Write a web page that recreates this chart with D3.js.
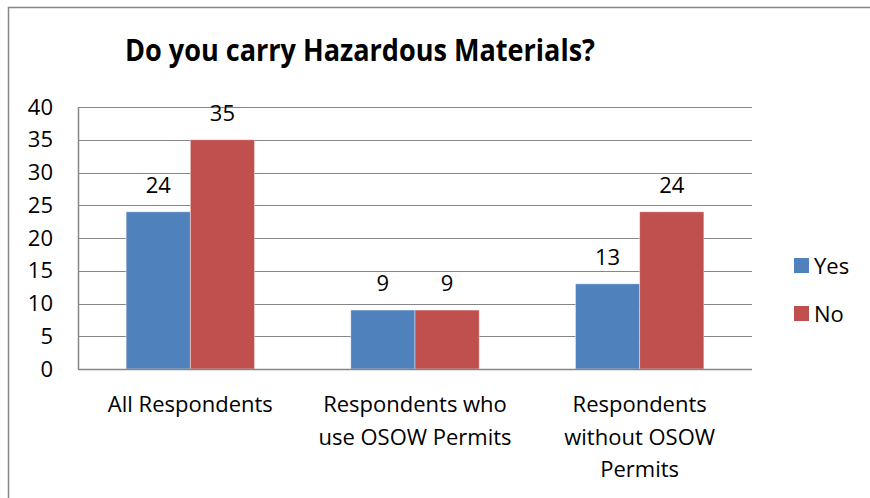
<!DOCTYPE html>
<html>
<head>
<meta charset="utf-8">
<title>Do you carry Hazardous Materials?</title>
<script src="https://d3js.org/d3.v7.min.js"></script>
<style>
  body { margin: 0; background: white; }
  text { font-family: "Open Sans", "Noto Sans", sans-serif; fill: #000; }
</style>
</head>
<body>
<svg id="chart"></svg>
<script>
// chart data
var categories = [
  ["All Respondents"],
  ["Respondents who", "use OSOW Permits"],
  ["Respondents", "without OSOW", "Permits"]
]
var seriesNames = ["Yes", "No"]
var yesValues = [24, 9, 13]
var noValues = [35, 9, 24]
var yTicks = [0, 5, 10, 15, 20, 25, 30, 35, 40]
var seriesColors = ["#4f81bd", "#c0504d"]

var width = 870
var height = 498

var plot = { left: 78, right: 752, top: 107, bottom: 369 }

var svg = d3.select("#chart")
  .attr("width", width)
  .attr("height", height)

// outer chart border (right/bottom edges fall outside the picture)
svg.append("rect")
  .attr("x", 8.5)
  .attr("y", 7.5)
  .attr("width", width)
  .attr("height", height)
  .attr("fill", "white")
  .attr("stroke", "#868686")
  .attr("stroke-width", 1.5)

// title
svg.append("text")
  .attr("x", 360)
  .attr("y", 61)
  .attr("text-anchor", "middle")
  .attr("font-size", 31)
  .attr("font-weight", 700)
  .attr("textLength", 470)
  .attr("lengthAdjust", "spacingAndGlyphs")
  .text("Do you carry Hazardous Materials?")

// scales
var idx = categories.map(function (d, i) { return i })
var x0 = d3.scaleBand()
  .domain(idx)
  .range([plot.left, plot.right])
  .paddingInner(1.5 / 3.5)
  .paddingOuter(0.75 / 3.5)

var x1 = d3.scaleBand()
  .domain(seriesNames)
  .range([0, x0.bandwidth()])

var y = d3.scaleLinear()
  .domain([0, 40])
  .range([plot.bottom, plot.top])

// gridlines
svg.append("g")
  .selectAll("line")
  .data(yTicks)
  .enter().append("line")
  .attr("x1", plot.left)
  .attr("x2", plot.right)
  .attr("y1", function (d) { return Math.round(y(d)) + 0.5 })
  .attr("y2", function (d) { return Math.round(y(d)) + 0.5 })
  .attr("stroke", "#868686")
  .attr("stroke-width", 1.2)

// y axis labels
var yAxis = d3.axisLeft(y).tickValues(yTicks).tickSize(0).tickPadding(25)
var yg = svg.append("g")
  .attr("transform", "translate(" + plot.left + ",0)")
  .call(yAxis)
yg.select(".domain").attr("stroke", "#868686").attr("stroke-width", 1.5)
yg.selectAll("text")
  .attr("font-size", 22)
  .attr("font-family", "Open Sans")
  .attr("fill", "#000")

// bars
var rows = idx.map(function (i) {
  return [
    { key: "Yes", value: yesValues[i] },
    { key: "No", value: noValues[i] }
  ]
})

var groups = svg.append("g")
  .selectAll("g")
  .data(rows)
  .enter().append("g")
  .attr("transform", function (d, i) { return "translate(" + x0(i) + ",0)" })

groups.selectAll("rect")
  .data(function (d) { return d })
  .enter().append("rect")
  .attr("x", function (d) { return x1(d.key) })
  .attr("y", function (d) { return y(d.value) })
  .attr("width", x1.bandwidth())
  .attr("height", function (d) { return y(0) - y(d.value) })
  .attr("fill", function (d, i) { return seriesColors[i] })
  .attr("stroke", "rgba(255,255,255,0.5)")
  .attr("stroke-width", 0.8)

// value labels
groups.selectAll("text.val")
  .data(function (d) { return d })
  .enter().append("text")
  .attr("class", "val")
  .attr("x", function (d) { return x1(d.key) + x1.bandwidth() / 2 })
  .attr("y", function (d) { return y(d.value) - 19 })
  .attr("text-anchor", "middle")
  .attr("font-size", 22)
  .text(function (d) { return d.value })

// x axis line
svg.append("line")
  .attr("x1", plot.left)
  .attr("x2", plot.right)
  .attr("y1", plot.bottom + 0.5)
  .attr("y2", plot.bottom + 0.5)
  .attr("stroke", "#868686")
  .attr("stroke-width", 1.5)

// category labels
var cat = svg.append("g")
  .selectAll("text")
  .data(categories)
  .enter().append("text")
  .attr("text-anchor", "middle")
  .attr("font-size", 22)
  .attr("x", function (d, i) { return x0(i) + x0.bandwidth() / 2 })
  .attr("y", 412)

cat.selectAll("tspan")
  .data(function (d) { return d })
  .enter().append("tspan")
  .attr("x", function () { return d3.select(this.parentNode).attr("x") })
  .attr("dy", function (d, i) { return i == 0 ? 0 : 32.5 })
  .text(function (d) { return d })

// legend
var legend = svg.append("g")
  .selectAll("g")
  .data(seriesNames)
  .enter().append("g")
  .attr("transform", function (d, i) { return "translate(794," + (258 + i * 48) + ")" })

legend.append("rect")
  .attr("width", 15)
  .attr("height", 15)
  .attr("fill", function (d, i) { return seriesColors[i] })

legend.append("text")
  .attr("x", 20)
  .attr("y", 16)
  .attr("font-size", 22)
  .text(function (d) { return d })
</script>
</body>
</html>
